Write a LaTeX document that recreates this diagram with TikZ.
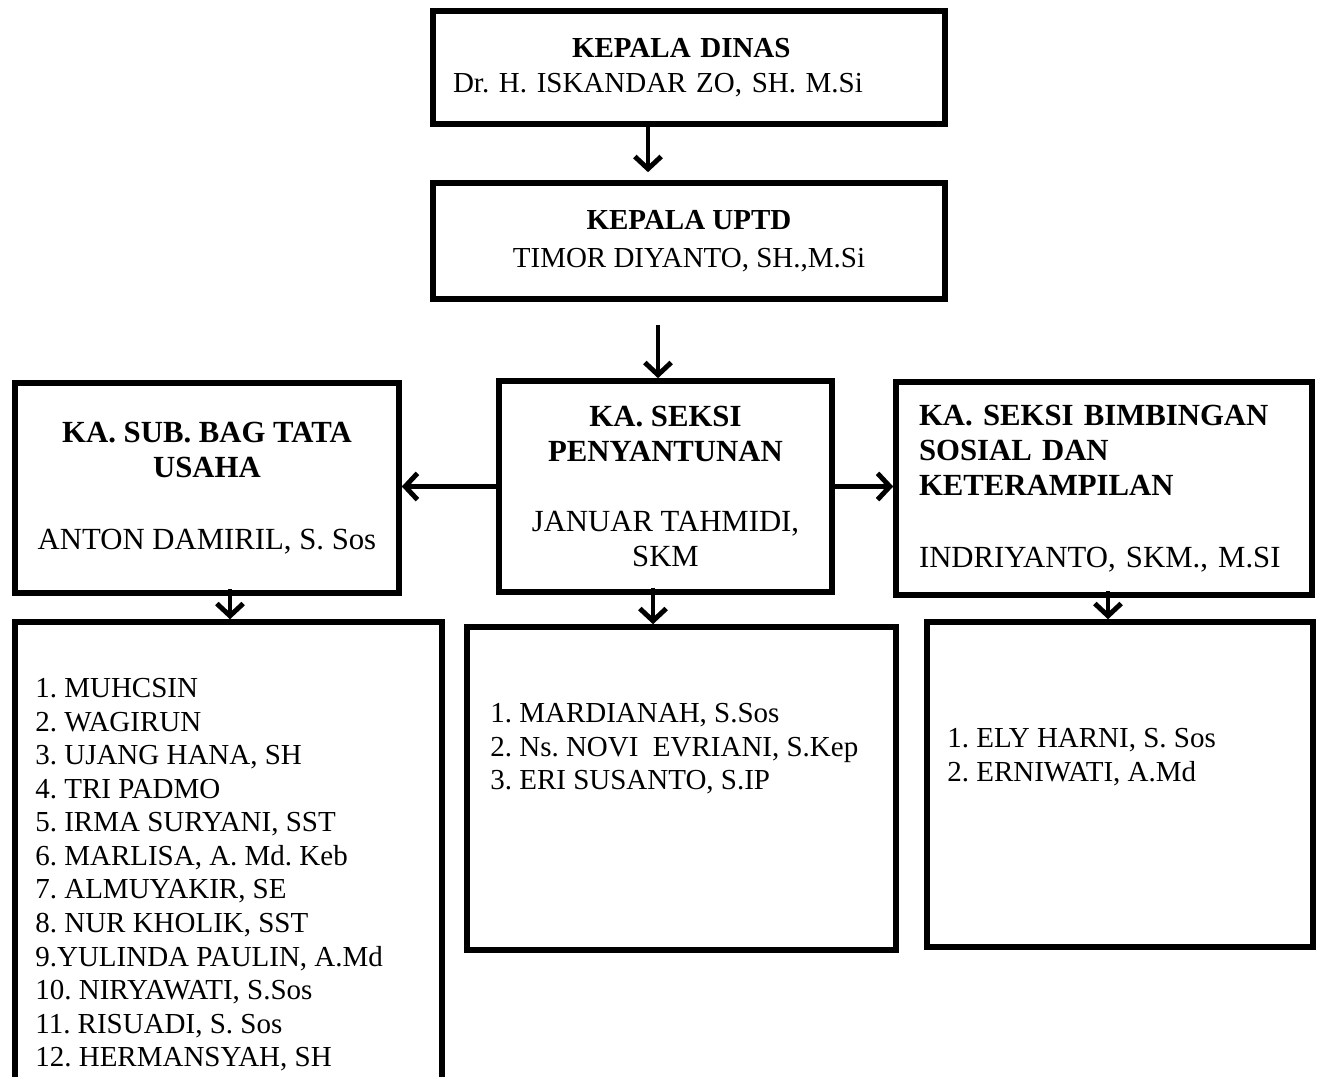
\documentclass[tikz,border=0pt]{standalone}
\usepackage{fontspec}
\setmainfont{Liberation Serif}
\frenchspacing
\usetikzlibrary{arrows.meta}

\begin{document}
\begin{tikzpicture}[x=0.02cm,y=-0.02cm,
  box/.style={draw,rectangle,line width=3.2pt,inner sep=0pt,align=center,font=\fontsize{16.5pt}{19.9pt}\selectfont},
  seksi/.style={box,font=\fontsize{17.5pt}{19.9pt}\selectfont},
  staff/.style={anchor=north west,inner sep=0pt,align=left,font=\fontsize{16.5pt}{19.1pt}\selectfont},
  arr/.style={-{Straight Barb[length=7pt,width=15pt]},line width=2.8pt}]
      \useasboundingbox (0,0) rectangle (1323,1077);

     % pimpinan
     \node[box,minimum width=10.24cm,minimum height=2.26cm,align=left,text width=9.44cm,inner xsep=0.4cm] (dinas) at (689,67.5)
	{\hspace*{2.38cm}\textbf{KEPALA DINAS}\\Dr. H. ISKANDAR ZO, SH. M.Si};
     \node[box,minimum width=10.24cm,minimum height=2.32cm] (uptd) at (689,241)
	{\textbf{KEPALA UPTD}\\[0.06cm]TIMOR DIYANTO, SH.,M.Si};

     % seksi
     \node[seksi,minimum width=7.68cm,minimum height=4.2cm] (tu) at (207,488)
	{\textbf{KA. SUB. BAG TATA}\\\textbf{USAHA}\\[0.74cm]ANTON DAMIRIL, S. Sos};
     \node[seksi,minimum width=6.66cm,minimum height=4.22cm] (peny) at (665.5,486.5)
	{\textbf{KA. SEKSI}\\\textbf{PENYANTUNAN}\\[0.7cm]JANUAR TAHMIDI,\\SKM};
     \node[seksi,minimum width=8.32cm,minimum height=4.26cm,align=left,text width=7.4cm,inner xsep=0.46cm] (bimb) at (1104,488.5)
	{\textbf{KA. SEKSI BIMBINGAN}\\\textbf{SOSIAL DAN}\\\textbf{KETERAMPILAN}\\[0.74cm]INDRIYANTO, SKM., M.SI};

     % staf
     \node[box,minimum width=8.54cm,minimum height=9.56cm] (tustaff) at (228.5,861) {};
     \node[box,minimum width=8.58cm,minimum height=6.46cm] (penystaff) at (681.5,788.5) {};
     \node[box,minimum width=7.72cm,minimum height=6.5cm] (bimbstaff) at (1120,784.5) {};

     \node[staff] (tunames) at (35,678) {1. MUHCSIN\\2. WAGIRUN\\3. UJANG HANA, SH\\4. TRI PADMO\\5. IRMA SURYANI, SST\\6. MARLISA, A. Md. Keb\\7. ALMUYAKIR, SE\\8. NUR KHOLIK, SST\\9.YULINDA PAULIN, A.Md\\10. NIRYAWATI, S.Sos\\11. RISUADI, S. Sos\\12. HERMANSYAH, SH};
     \node[staff] (penynames) at (490,703) {1. MARDIANAH, S.Sos\\2. Ns. NOVI\ \ EVRIANI, S.Kep\\3. ERI SUSANTO, S.IP};
     \node[staff] (bimbnames) at (947,728) {1. ELY HARNI, S. Sos\\2. ERNIWATI, A.Md};

     \draw[arr,shorten >=0.16cm] ([xshift=-0.82cm]dinas.south) -- ([xshift=-0.82cm]uptd.north);
     \draw[arr,shorten <=0.46cm] ([xshift=-0.62cm]uptd.south) -- ([xshift=-0.62cm]uptd.south |- peny.north);
     \draw[arr] (peny.west) -- (peny.west -| tu.east);
     \draw[arr] (peny.east) -- (peny.east -| bimb.west);
     \draw[arr,shorten <=-0.14cm] ([xshift=0.46cm]tu.south) -- ([xshift=0.46cm]tu.south |- tustaff.north);
     \draw[arr,shorten <=-0.14cm] ([xshift=-0.25cm]peny.south) -- ([xshift=-0.25cm]peny.south |- penystaff.north);
     \draw[arr,shorten <=-0.14cm] ([xshift=0.08cm]bimb.south) -- ([xshift=0.08cm]bimb.south |- bimbstaff.north);

  \end{tikzpicture}
\end{document}
